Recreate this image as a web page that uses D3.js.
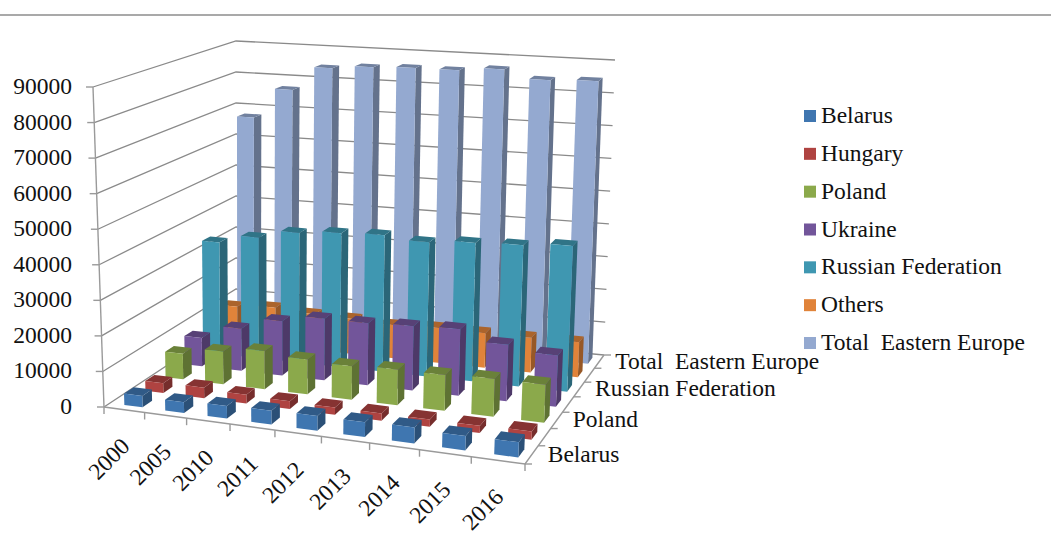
<!DOCTYPE html>
<html>
<head>
<meta charset="utf-8">
<script src="https://cdn.jsdelivr.net/npm/d3@7"></script>
<style>
  html, body { margin: 0; background: #fff; }
  text { font-family: "Liberation Serif", serif; font-size: 23.5px; fill: #111; white-space: pre; }
</style>
</head>
<body>
<div id="chart"></div>
<script>
// Chart values
const years = ["2000", "2005", "2010", "2011", "2012", "2013", "2014", "2015", "2016"];
const seriesNames = ["Belarus", "Hungary", "Poland", "Ukraine", "Russian Federation", "Others", "Total  Eastern Europe"];
const belarus = [3200, 3000, 3500, 3800, 4000, 4000, 4300, 3800, 4000];
const hungary = [2800, 3000, 2500, 2200, 2000, 2000, 2000, 2000, 2200];
const poland = [7500, 9500, 11000, 10000, 9500, 10000, 10000, 10500, 10500];
const ukraine = [8500, 12500, 16000, 18000, 18000, 18500, 19000, 16000, 14500];
const russia = [34000, 36500, 39000, 40000, 40500, 39500, 40500, 41000, 42000];
const others = [11000, 11800, 11000, 10700, 10000, 10500, 10300, 10300, 10300];
const total = [67500, 77000, 84500, 85500, 86000, 86000, 87000, 84500, 85000];
const seriesValues = [belarus, hungary, poland, ukraine, russia, others, total];
const seriesColors = ["#3f76b0", "#af4341", "#8ba94b", "#72559a", "#3f97b1", "#e0833a", "#94a9d0"];
const valueTicks = [0, 10000, 20000, 30000, 40000, 50000, 60000, 70000, 80000, 90000];
const depthLabels = ["Belarus", "Poland", "Russian Federation", "Total  Eastern Europe"];

const width = 1051;
const height = 543;

// Corners of the 3D box on the page: floor and top, [front-left, front-right, back-right, back-left]
const floorQuad = [[104, 407], [525, 464], [604, 355], [236, 320]];
const topQuad = [[93, 87], [539, 119], [615, 60], [236, 41]];

// Perspective map of the unit square on a quad
function homography(q) {
  const [[x0, y0], [x1, y1], [x2, y2], [x3, y3]] = q;
  const dx1 = x1 - x2, dx2 = x3 - x2, sx = x0 - x1 + x2 - x3;
  const dy1 = y1 - y2, dy2 = y3 - y2, sy = y0 - y1 + y2 - y3;
  const det = dx1 * dy2 - dx2 * dy1;
  const g = (sx * dy2 - dx2 * sy) / det;
  const h = (dx1 * sy - sx * dy1) / det;
  const a = x1 - x0 + g * x1, b = x3 - x0 + h * x3;
  const d = y1 - y0 + g * y1, e = y3 - y0 + h * y3;
  return (u, v) => {
    const w = g * u + h * v + 1;
    return [(a * u + b * v + x0) / w, (d * u + e * v + y0) / w];
  };
}
const floorMap = homography(floorQuad);
const topMap = homography(topQuad);

// u along the years, v into the depth, w up the value axis (all 0..1)
function project(u, v, w) {
  const p = floorMap(u, v), q = topMap(u, v);
  return [p[0] + (q[0] - p[0]) * w, p[1] + (q[1] - p[1]) * w];
}

const xScale = d3.scaleBand().domain(years).range([0, 1]).paddingInner(0.55).paddingOuter(0.275).align(0.65);
const zScale = d3.scaleBand().domain(seriesNames).range([0, 1]).paddingInner(0.55).paddingOuter(0.275);
const yScale = d3.scaleLinear().domain([0, 90000]).range([0, 1]);
const line = d3.line();

const svg = d3.select("#chart").append("svg")
  .attr("width", width)
  .attr("height", height)
  .style("display", "block");

// Rule at the top of the figure
svg.append("line")
  .attr("x1", 0).attr("x2", width).attr("y1", 15).attr("y2", 15)
  .attr("stroke", "#8c8c8c").attr("stroke-width", 1.5);

// Walls: each gridline runs front-left -> back-left -> back-right
svg.append("g").selectAll("path")
  .data(valueTicks)
  .join("path")
  .attr("d", d => line([project(0, 0, yScale(d)), project(0, 1, yScale(d)), project(1, 1, yScale(d))]))
  .attr("fill", "none")
  .attr("stroke", "#8a8a8a")
  .attr("stroke-width", 1.3);

// Axis lines and ticks
const axes = svg.append("g").attr("fill", "none").attr("stroke", "#9a9a9a").attr("stroke-width", 1.4);
axes.append("path").attr("d", line([project(0, 0, 0), project(0, 0, 1)]));
axes.append("path").attr("d", line([project(0, 0, 0), project(1, 0, 0), project(1, 1, 0)]));
axes.selectAll(".vtick").data(valueTicks).join("path").attr("class", "vtick")
  .attr("d", d => {
    const p = project(0, 0, yScale(d));
    return line([[p[0] - 7, p[1]], p]);
  });
axes.selectAll(".xtick").data(d3.range(years.length + 1)).join("path").attr("class", "xtick")
  .attr("d", i => {
    const p = project(i / years.length, 0, 0);
    return line([p, [p[0], p[1] + 7]]);
  });
axes.selectAll(".ztick").data(d3.range(seriesNames.length + 1)).join("path").attr("class", "ztick")
  .attr("d", i => {
    const p = project(1, i / seriesNames.length, 0);
    return line([p, [p[0] + 7, p[1]]]);
  });

// Bars, back row first and left to right so nearer ones cover farther ones
const bars = [];
seriesNames.forEach((name, s) => {
  years.forEach((year, c) => {
    bars.push({ name, year, value: seriesValues[s][c], color: seriesColors[s], s, c });
  });
});
bars.sort((a, b) => b.s - a.s || a.c - b.c);

const barG = svg.append("g").selectAll("g")
  .data(bars)
  .join("g");

const face = points => line(points) + "Z";
barG.each(function(d) {
  const u0 = xScale(d.year), u1 = u0 + xScale.bandwidth();
  const v0 = zScale(d.name), v1 = v0 + zScale.bandwidth();
  const w = yScale(d.value);
  const g = d3.select(this);
  const c = d3.color(d.color);
  g.append("path")
    .attr("d", face([project(u1, v0, 0), project(u1, v1, 0), project(u1, v1, w), project(u1, v0, w)]))
    .attr("fill", c.darker(1.1));
  g.append("path")
    .attr("d", face([project(u0, v0, w), project(u1, v0, w), project(u1, v1, w), project(u0, v1, w)]))
    .attr("fill", c.darker(0.75));
  g.append("path")
    .attr("d", face([project(u0, v0, 0), project(u1, v0, 0), project(u1, v0, w), project(u0, v0, w)]))
    .attr("fill", c);
});

// Value labels
svg.append("g").selectAll("text")
  .data(valueTicks)
  .join("text")
  .attr("x", 72)
  .attr("y", d => project(0, 0, yScale(d))[1] + 7)
  .attr("text-anchor", "end")
  .text(d => d);

// Year labels, turned 45 degrees
svg.append("g").selectAll("text")
  .data(years)
  .join("text")
  .attr("transform", (d, i) => {
    const p = project((i + 0.5) / years.length, 0, 0);
    return `translate(${p[0] + 7},${p[1] + 38}) rotate(-45)`;
  })
  .attr("text-anchor", "end")
  .text(d => d);

// Depth labels, every other series
svg.append("g").selectAll("text")
  .data(depthLabels)
  .join("text")
  .attr("transform", d => {
    const p = project(1, (seriesNames.indexOf(d) + 0.5) / seriesNames.length, 0);
    return `translate(${p[0] + 16},${p[1] + 7})`;
  })
  .text(d => d);

// Legend
const legendY = d3.scalePoint().domain(seriesNames).range([116, 343]);
const legend = svg.append("g").selectAll("g")
  .data(seriesNames)
  .join("g")
  .attr("transform", d => `translate(804,${legendY(d)})`);
legend.append("rect")
  .attr("y", -6).attr("width", 12).attr("height", 12)
  .attr("fill", (d, i) => seriesColors[i]);
legend.append("text")
  .attr("x", 17).attr("y", 7)
  .text(d => d);
</script>
</body>
</html>
